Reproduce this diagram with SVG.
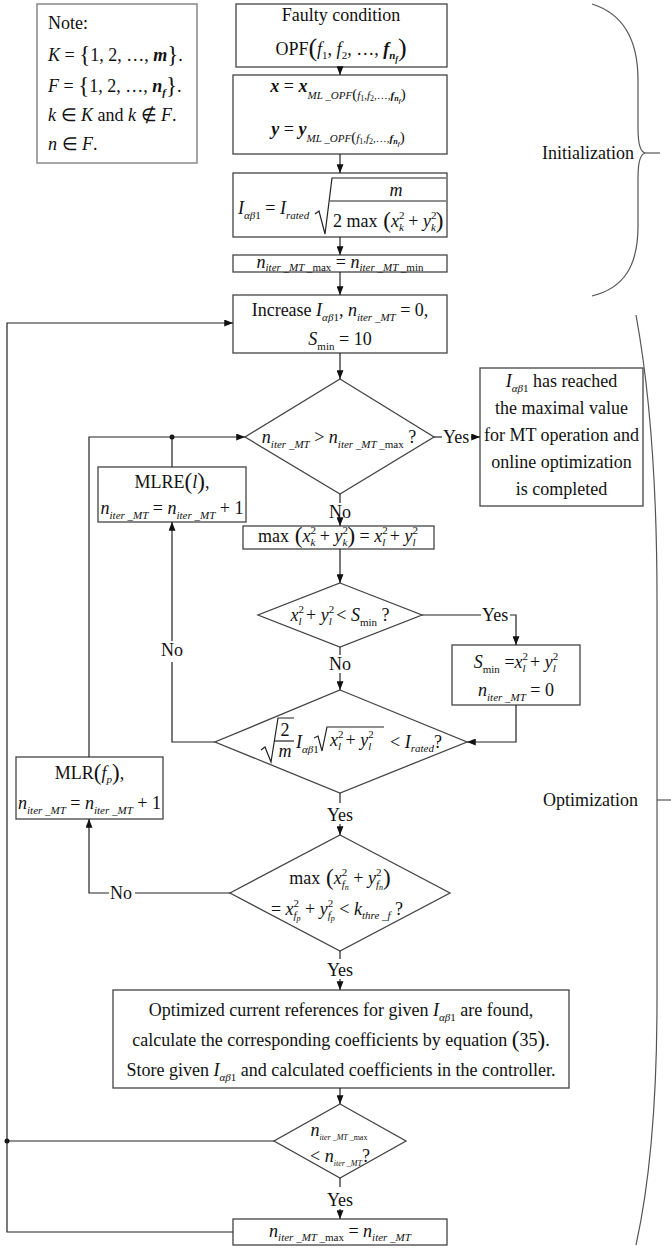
<svg xmlns="http://www.w3.org/2000/svg" width="671" height="1248" viewBox="0 0 671 1248">
<style>
.bx{fill:#fff;stroke:#444;stroke-width:1.3}
.nb{fill:#fff;stroke:#888;stroke-width:1.5}
.ln{fill:none;stroke:#222;stroke-width:1.2}
.br{fill:none;stroke:#555;stroke-width:1.2}
.t{font-family:"Liberation Serif","Times New Roman",serif;font-size:18px;fill:#111}
.m{text-anchor:middle}
.e{text-anchor:end}
.i{font-style:italic}
.b{font-style:italic;font-weight:bold}
.s{font-size:11px}
.x{font-size:8px}
.p{font-size:23px}
</style>
<defs>
<marker id="ar" viewBox="0 0 10 8" refX="10" refY="4" markerWidth="9" markerHeight="7" markerUnits="userSpaceOnUse" orient="auto"><path d="M0,0 L10,4 L0,8 z" fill="#111"/></marker>
</defs>

<g id="note">
<rect class="nb" x="37" y="4" width="160" height="159"/>
<text class="t" x="48" y="29">Note:</text>
<text class="t" x="48" y="61"><tspan class="i">K</tspan> = <tspan class="p" dy="1">{</tspan><tspan dy="-1">1, 2, …, </tspan><tspan class="b">m</tspan><tspan class="p" dy="1">}</tspan><tspan dy="-1">.</tspan></text>
<text class="t" x="48" y="92"><tspan class="i">F</tspan> = <tspan class="p" dy="1">{</tspan><tspan dy="-1">1, 2, …, </tspan><tspan class="b">n</tspan><tspan class="s b" dy="4">f</tspan><tspan class="p" dy="-3">}</tspan><tspan dy="-1">.</tspan></text>
<text class="t" x="48" y="121"><tspan class="i">k</tspan> ∈ <tspan class="i">K</tspan> and <tspan class="i">k</tspan> ∉ <tspan class="i">F</tspan>.</text>
<text class="t" x="48" y="150"><tspan class="i">n</tspan> ∈ <tspan class="i">F</tspan>.</text>
</g>

<g id="n-faulty">
<rect class="bx" x="236" y="4" width="211" height="63"/>
<text class="t m" x="341" y="21">Faulty condition</text>
<text class="t m" x="341" y="55">OPF<tspan font-size="26" dy="1">(</tspan><tspan class="i" dy="-1">f</tspan><tspan class="s" dy="4">1</tspan><tspan dy="-4">, </tspan><tspan class="i">f</tspan><tspan class="s" dy="4">2</tspan><tspan dy="-4">, …, </tspan><tspan class="b">f</tspan><tspan class="s b" dy="4">n</tspan><tspan class="x b" dy="3">f</tspan><tspan font-size="26" dy="-6">)</tspan></text>
</g>

<g id="n-xy">
<rect class="bx" x="233" y="75" width="214" height="79"/>
<text class="t m" x="338" y="92"><tspan class="b">x</tspan> = <tspan class="b">x</tspan><tspan class="s i" dy="7">ML _OPF</tspan><tspan font-size="15">(</tspan><tspan class="s i">f</tspan><tspan class="x" dy="2">1</tspan><tspan class="s i" dy="-2">,f</tspan><tspan class="x" dy="2">2</tspan><tspan class="s" dy="-2">,…,</tspan><tspan class="s b">f</tspan><tspan class="x b" dy="2">n</tspan><tspan font-size="6" font-weight="bold" font-style="italic" dy="2">f</tspan><tspan font-size="15" dy="-4">)</tspan></text>
<text class="t m" x="338" y="135"><tspan class="b">y</tspan> = <tspan class="b">y</tspan><tspan class="s i" dy="7">ML _OPF</tspan><tspan font-size="15">(</tspan><tspan class="s i">f</tspan><tspan class="x" dy="2">1</tspan><tspan class="s i" dy="-2">,f</tspan><tspan class="x" dy="2">2</tspan><tspan class="s" dy="-2">,…,</tspan><tspan class="s b">f</tspan><tspan class="x b" dy="2">n</tspan><tspan font-size="6" font-weight="bold" font-style="italic" dy="2">f</tspan><tspan font-size="15" dy="-4">)</tspan></text>
</g>

<g id="n-current">
<rect class="bx" x="233" y="173" width="214" height="64"/>
<text class="t" x="238" y="214"><tspan class="i">I</tspan><tspan class="s i" dy="5">αβ</tspan><tspan class="s">1</tspan><tspan dy="-5"> = </tspan><tspan class="i">I</tspan><tspan class="s i" dy="5">rated</tspan></text>
<polyline class="ln" points="315,214 319,211 325,234 332,178 446,178"/>
<line class="ln" x1="330" y1="201" x2="446" y2="201"/>
<text class="t m i" x="396" y="196">m</text>
<text class="t" x="333" y="227">2 max<tspan class="p" dy="1"> (</tspan><tspan class="i" dy="-1">x</tspan><tspan class="s" dy="-8">2</tspan><tspan class="s i" dx="-5.5" dy="12">k</tspan><tspan dy="-4"> + </tspan><tspan class="i">y</tspan><tspan class="s" dy="-8">2</tspan><tspan class="s i" dx="-5.5" dy="12">k</tspan><tspan class="p" dy="-3">)</tspan></text>
</g>

<g id="n-init-iter">
<rect class="bx" x="233" y="255" width="214" height="17"/>
<text class="t m" x="340" y="268"><tspan class="i">n</tspan><tspan class="s i" dy="3">iter _MT _</tspan><tspan class="s">max</tspan><tspan dy="-3"> = </tspan><tspan class="i">n</tspan><tspan class="s i" dy="3">iter _MT _</tspan><tspan class="s">min</tspan></text>
</g>

<g id="n-increase">
<rect class="bx" x="233" y="295" width="214" height="58"/>
<text class="t m" x="340" y="316">Increase <tspan class="i">I</tspan><tspan class="s i" dy="5">αβ</tspan><tspan class="s">1</tspan><tspan dy="-5">, </tspan><tspan class="i">n</tspan><tspan class="s i" dy="5">iter _MT</tspan><tspan dy="-5"> = 0,</tspan></text>
<text class="t m" x="340" y="345"><tspan class="i">S</tspan><tspan class="s" dy="5">min</tspan><tspan dy="-5"> = 10</tspan></text>
</g>

<g id="d-iter-max">
<polygon class="bx" points="340,379 434,437 340,494 245,437"/>
<text class="t m" x="339" y="443"><tspan class="i">n</tspan><tspan class="s i" dy="5">iter _MT</tspan><tspan dy="-5"> &gt; </tspan><tspan class="i">n</tspan><tspan class="s i" dy="5">iter _MT _</tspan><tspan class="s">max</tspan><tspan dy="-5"> ?</tspan></text>
</g>

<g id="n-completed">
<rect class="bx" x="480" y="368" width="163" height="138"/>
<text class="t m" x="561.5" y="387"><tspan class="i">I</tspan><tspan class="s i" dy="5">αβ</tspan><tspan class="s">1</tspan><tspan dy="-5"> has reached</tspan></text>
<text class="t m" x="561.5" y="414">the maximal value</text>
<text class="t m" x="561.5" y="441">for MT operation and</text>
<text class="t m" x="561.5" y="468">online optimization</text>
<text class="t m" x="561.5" y="495">is completed</text>
</g>

<g id="n-max">
<rect class="bx" x="243" y="526" width="191" height="23"/>
<text class="t m" x="338" y="542">max<tspan class="p" dy="1"> (</tspan><tspan class="i" dy="-1">x</tspan><tspan class="s" dy="-8">2</tspan><tspan class="s i" dx="-5.5" dy="12">k</tspan><tspan dy="-4"> + </tspan><tspan class="i">y</tspan><tspan class="s" dy="-8">2</tspan><tspan class="s i" dx="-5.5" dy="12">k</tspan><tspan class="p" dy="-3">)</tspan><tspan dy="-1"> = </tspan><tspan class="i">x</tspan><tspan class="s" dy="-8">2</tspan><tspan class="s i" dx="-5.5" dy="12">l</tspan><tspan dy="-4"> + </tspan><tspan class="i">y</tspan><tspan class="s" dy="-8">2</tspan><tspan class="s i" dx="-5.5" dy="12">l</tspan></text>
</g>

<g id="d-smin">
<polygon class="bx" points="340,583 422,615 340,647 258,615"/>
<text class="t m" x="340" y="621"><tspan class="i">x</tspan><tspan class="s" dy="-8">2</tspan><tspan class="s i" dx="-5.5" dy="12">l</tspan><tspan dy="-4"> + </tspan><tspan class="i">y</tspan><tspan class="s" dy="-8">2</tspan><tspan class="s i" dx="-5.5" dy="12">l</tspan><tspan dy="-4"> &lt; </tspan><tspan class="i">S</tspan><tspan class="s" dy="5">min</tspan><tspan dy="-5"> ?</tspan></text>
</g>

<g id="n-smin">
<rect class="bx" x="452" y="645" width="128" height="60"/>
<text class="t m" x="516" y="668"><tspan class="i">S</tspan><tspan class="s" dy="5">min</tspan><tspan dy="-5"> =</tspan><tspan class="i">x</tspan><tspan class="s" dy="-8">2</tspan><tspan class="s i" dx="-5.5" dy="12">l</tspan><tspan dy="-4"> + </tspan><tspan class="i">y</tspan><tspan class="s" dy="-8">2</tspan><tspan class="s i" dx="-5.5" dy="12">l</tspan></text>
<text class="t m" x="516" y="696"><tspan class="i">n</tspan><tspan class="s i" dy="5">iter _MT</tspan><tspan dy="-5"> = 0</tspan></text>
</g>

<g id="d-rated">
<polygon class="bx" points="340,690 467,742 340,793 215,742"/>
<polyline class="ln" points="261,750 265,747 271,762 278,718 294,718"/>
<text class="t m" x="285" y="736">2</text>
<line class="ln" x1="274" y1="741" x2="294" y2="741"/>
<text class="t m i" x="285" y="757">m</text>
<text class="t" x="296" y="748"><tspan class="i">I</tspan><tspan class="s i" dy="5">αβ</tspan><tspan class="s">1</tspan></text>
<polyline class="ln" points="314,738 318,736 322,751 327,727 384,727"/>
<text class="t" x="330" y="746"><tspan class="i">x</tspan><tspan class="s" dy="-8">2</tspan><tspan class="s i" dx="-5.5" dy="12">l</tspan><tspan dy="-4"> + </tspan><tspan class="i">y</tspan><tspan class="s" dy="-8">2</tspan><tspan class="s i" dx="-5.5" dy="12">l</tspan></text>
<text class="t" x="390" y="748">&lt; <tspan class="i">I</tspan><tspan class="s i" dy="4">rated</tspan><tspan dy="-4">?</tspan></text>
</g>

<g id="n-mlre">
<rect class="bx" x="98" y="467" width="148" height="55"/>
<text class="t m" x="172" y="488">MLRE<tspan class="p" dy="1">(</tspan><tspan class="i" dy="-1">l</tspan><tspan class="p" dy="1">)</tspan><tspan dy="-1">,</tspan></text>
<text class="t m" x="172" y="514"><tspan class="i">n</tspan><tspan class="s i" dy="5">iter _MT</tspan><tspan dy="-5"> = </tspan><tspan class="i">n</tspan><tspan class="s i" dy="5">iter _MT</tspan><tspan dy="-5"> + 1</tspan></text>
</g>

<g id="d-fault">
<polygon class="bx" points="340,835 450,893 340,951 230,893"/>
<text class="t m" x="340" y="884">max<tspan class="p" dy="1"> (</tspan><tspan class="i" dy="-1">x</tspan><tspan class="s" dy="-8">2</tspan><tspan class="s i" dx="-5.5" dy="12">f</tspan><tspan class="x i" dy="2">n</tspan><tspan dy="-6"> + </tspan><tspan class="i">y</tspan><tspan class="s" dy="-8">2</tspan><tspan class="s i" dx="-5.5" dy="12">f</tspan><tspan class="x i" dy="2">n</tspan><tspan class="p" dy="-5">)</tspan></text>
<text class="t m" x="337" y="915">= <tspan class="i">x</tspan><tspan class="s" dy="-8">2</tspan><tspan class="s i" dx="-5.5" dy="12">f</tspan><tspan class="x i" dy="2">p</tspan><tspan dy="-6"> + </tspan><tspan class="i">y</tspan><tspan class="s" dy="-8">2</tspan><tspan class="s i" dx="-5.5" dy="12">f</tspan><tspan class="x i" dy="2">p</tspan><tspan dy="-6"> &lt; </tspan><tspan class="i">k</tspan><tspan class="s i" dy="4">thre _f</tspan><tspan dy="-4"> ?</tspan></text>
</g>

<g id="n-mlr">
<rect class="bx" x="16" y="757" width="147" height="62"/>
<text class="t m" x="89.5" y="779">MLR<tspan class="p" dy="1">(</tspan><tspan class="i" dy="-1">f</tspan><tspan class="s i" dy="4">p</tspan><tspan class="p" dy="-3">)</tspan><tspan dy="-1">,</tspan></text>
<text class="t m" x="89.5" y="809"><tspan class="i">n</tspan><tspan class="s i" dy="5">iter _MT</tspan><tspan dy="-5"> = </tspan><tspan class="i">n</tspan><tspan class="s i" dy="5">iter _MT</tspan><tspan dy="-5"> + 1</tspan></text>
</g>

<g id="n-store">
<rect class="bx" x="113" y="990" width="456" height="98"/>
<text class="t m" x="341" y="1016">Optimized current references for given <tspan class="i">I</tspan><tspan class="s i" dy="5">αβ</tspan><tspan class="s">1</tspan><tspan dy="-5"> are found,</tspan></text>
<text class="t m" x="341" y="1046">calculate the corresponding coefficients by equation <tspan class="p" dy="1">(</tspan><tspan dy="-1">35</tspan><tspan class="p" dy="1">)</tspan><tspan dy="-1">.</tspan></text>
<text class="t m" x="341" y="1076">Store given <tspan class="i">I</tspan><tspan class="s i" dy="5">αβ</tspan><tspan class="s">1</tspan><tspan dy="-5"> and calculated coefficients in the controller.</tspan></text>
</g>

<g id="d-update">
<polygon class="bx" points="340,1104 406,1141 340,1178 274,1141"/>
<text class="t m" x="339" y="1136"><tspan class="i">n</tspan><tspan class="x i" dy="4">iter _MT _</tspan><tspan class="x">max</tspan></text>
<text class="t m" x="340" y="1162">&lt; <tspan class="i">n</tspan><tspan class="x i" dy="4">iter _MT</tspan><tspan dy="-4">?</tspan></text>
</g>

<g id="n-update">
<rect class="bx" x="233" y="1219" width="214" height="26"/>
<text class="t m" x="340" y="1237"><tspan class="i">n</tspan><tspan class="s i" dy="4">iter _MT _</tspan><tspan class="s">max</tspan><tspan dy="-4"> = </tspan><tspan class="i">n</tspan><tspan class="s i" dy="4">iter _MT</tspan></text>
</g>

<g id="connectors">
<line class="ln" x1="340" y1="67" x2="340" y2="75" marker-end="url(#ar)"/>
<line class="ln" x1="340" y1="154" x2="340" y2="173" marker-end="url(#ar)"/>
<line class="ln" x1="340" y1="237" x2="340" y2="255" marker-end="url(#ar)"/>
<line class="ln" x1="340" y1="272" x2="340" y2="295" marker-end="url(#ar)"/>
<line class="ln" x1="340" y1="353" x2="340" y2="379" marker-end="url(#ar)"/>
<line class="ln" x1="434" y1="437" x2="442" y2="437"/>
<text class="t" x="443" y="443">Yes</text>
<line class="ln" x1="471" y1="437" x2="480" y2="437" marker-end="url(#ar)"/>
<line class="ln" x1="340" y1="494" x2="340" y2="503"/>
<text class="t m" x="340" y="518">No</text>
<line class="ln" x1="340" y1="519" x2="340" y2="526" marker-end="url(#ar)"/>
<line class="ln" x1="340" y1="549" x2="340" y2="583" marker-end="url(#ar)"/>
<line class="ln" x1="422" y1="615" x2="481" y2="615"/>
<text class="t" x="482" y="621">Yes</text>
<polyline class="ln" points="510,615 516,615 516,645" marker-end="url(#ar)"/>
<line class="ln" x1="340" y1="647" x2="340" y2="655"/>
<text class="t m" x="340" y="670">No</text>
<line class="ln" x1="340" y1="673" x2="340" y2="690" marker-end="url(#ar)"/>
<polyline class="ln" points="516,705 516,742 467,742" marker-end="url(#ar)"/>
<polyline class="ln" points="215,742 172,742 172,662"/>
<text class="t m" x="172" y="656">No</text>
<line class="ln" x1="172" y1="641" x2="172" y2="522" marker-end="url(#ar)"/>
<line class="ln" x1="172" y1="467" x2="172" y2="437"/>
<circle cx="172" cy="437" r="2.5" fill="#111"/>
<polyline class="ln" points="89,757 89,437 245,437" marker-end="url(#ar)"/>
<line class="ln" x1="340" y1="793" x2="340" y2="803"/>
<text class="t m" x="340" y="821">Yes</text>
<line class="ln" x1="340" y1="824" x2="340" y2="835" marker-end="url(#ar)"/>
<line class="ln" x1="230" y1="893" x2="135" y2="893"/>
<text class="t" x="110" y="899">No</text>
<polyline class="ln" points="109,893 89,893 89,819" marker-end="url(#ar)"/>
<line class="ln" x1="340" y1="951" x2="340" y2="959"/>
<text class="t m" x="340" y="976">Yes</text>
<line class="ln" x1="340" y1="979" x2="340" y2="990" marker-end="url(#ar)"/>
<line class="ln" x1="340" y1="1088" x2="340" y2="1104" marker-end="url(#ar)"/>
<line class="ln" x1="274" y1="1141" x2="7" y2="1141"/>
<circle cx="7" cy="1141" r="2.5" fill="#111"/>
<line class="ln" x1="340" y1="1178" x2="340" y2="1187"/>
<text class="t m" x="340" y="1206">Yes</text>
<line class="ln" x1="340" y1="1209" x2="340" y2="1219" marker-end="url(#ar)"/>
<polyline class="ln" points="233,1232 7,1232 7,323 233,323" marker-end="url(#ar)"/>
</g>

<g id="phases">
<path class="br" d="M592,4 C624,14 638,40 638,80 L638,128 C638,146 641,153 646,153 C641,153 638,160 638,178 L638,226 C638,266 624,288 592,296"/>
<line class="br" x1="646" y1="153" x2="660" y2="153"/>
<text class="t e" x="634" y="159">Initialization</text>
<path class="br" d="M636,315 Q657,430 657,600 L657,1000 Q657,1150 636,1245"/>
<line class="br" x1="657" y1="800" x2="671" y2="800"/>
<text class="t e" x="638" y="806">Optimization</text>
</g>
</svg>
